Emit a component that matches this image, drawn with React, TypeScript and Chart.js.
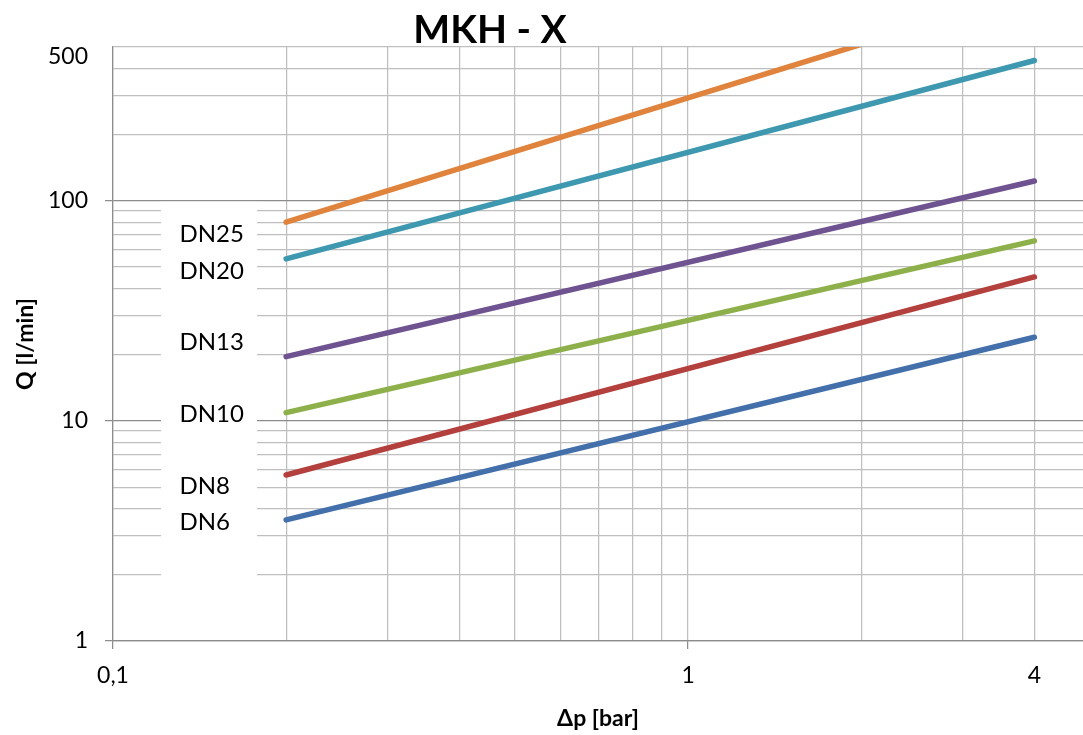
import React, { useEffect, useRef } from 'react';
import { Chart, registerables } from 'chart.js';

Chart.register(...registerables);

const chartTitle = 'MKH - X';
const xAxisTitle = 'Δp [bar]';
const yAxisTitle = 'Q [l/min]';

const seriesNames = ['DN6', 'DN8', 'DN10', 'DN13', 'DN20', 'DN25'];
const seriesColors = ['#4370AB', '#B3403C', '#8DB04B', '#6F5391', '#3D98B0', '#E0833C'];
const pressure = [0.2, 4];
const flowDN6 = [3.55, 24.0];
const flowDN8 = [5.68, 45.1];
const flowDN10 = [10.9, 65.8];
const flowDN13 = [19.6, 123];
const flowDN20 = [54.5, 434];
const flowDN25 = [80, 900];
const seriesFlows = [flowDN6, flowDN8, flowDN10, flowDN13, flowDN20, flowDN25];

const labelNames = ['DN25', 'DN20', 'DN13', 'DN10', 'DN8', 'DN6'];
const labelQ = [70.4, 48.1, 22.7, 10.76, 5.06, 3.47];
const labelDp = 0.1305;
const labelBoxDp = [0.1212, 0.178];
const labelBoxQ = [99, 1.6];

const xMin = 0.1;
const xMax = 4.86;
const yMin = 1;
const yMax = 500;
const xGridValues = [0.1, 0.2, 0.3, 0.4, 0.5, 0.6, 0.7, 0.8, 0.9, 1, 2, 3, 4];
const xMajorValues = [0.1, 1];
const xTickLabels: Record<string, string> = { '0.1': '0,1', '1': '1', '4': '4' };
const yGridValues = [1, 2, 3, 4, 5, 6, 7, 8, 9, 10, 20, 30, 40, 50, 60, 70, 80, 90, 100, 200, 300, 400, 500];
const yMajorValues = [1, 10, 100];
const yTickLabels: Record<string, string> = { '1': '1', '10': '10', '100': '100' };
const yTopLabel = '500';

const FONT = 'Lato';
const MINOR = '#BFBFBF';
const MAJOR = '#8C8C8C';

const annotations = {
  id: 'annotations',
  beforeDatasetsDraw(chart: any) {
    const { ctx } = chart;
    const x = chart.scales.x;
    const y = chart.scales.y;
    ctx.save();
    const bx0 = x.getPixelForValue(labelBoxDp[0]);
    const bx1 = x.getPixelForValue(labelBoxDp[1]);
    const by0 = y.getPixelForValue(labelBoxQ[0]);
    const by1 = y.getPixelForValue(labelBoxQ[1]);
    ctx.fillStyle = '#ffffff';
    ctx.fillRect(bx0, by0, bx1 - bx0, by1 - by0);
    ctx.fillStyle = '#000000';
    ctx.font = `24px ${FONT}`;
    ctx.textAlign = 'left';
    ctx.textBaseline = 'middle';
    labelNames.forEach((n, i) => {
      ctx.fillText(n, x.getPixelForValue(labelDp), y.getPixelForValue(labelQ[i]));
    });
    ctx.font = `23px ${FONT}`;
    ctx.textAlign = 'right';
    ctx.fillText(yTopLabel, y.right - 25, y.getPixelForValue(yMax) + 10);
    ctx.font = `bold 39px ${FONT}`;
    ctx.textAlign = 'center';
    ctx.fillText(chartTitle, 490, 30);
    ctx.restore();
  },
};

export default function App() {
  const ref = useRef<HTMLCanvasElement>(null);
  useEffect(() => {
    document.body.style.margin = '0';
    Chart.defaults.font.family = FONT;
    const datasets = seriesNames.map((name, i) => ({
      label: name,
      data: pressure.map((p, j) => ({ x: p, y: seriesFlows[i][j] })),
      borderColor: seriesColors[i],
      backgroundColor: seriesColors[i],
      borderWidth: 5.5,
      borderCapStyle: 'round' as const,
      pointRadius: 0,
      tension: 0,
      clip: 0,
    }));
    const chart = new Chart(ref.current!, {
      type: 'line',
      data: { datasets },
      plugins: [annotations],
      options: {
        animation: false,
        responsive: false,
        layout: { padding: { top: 47, left: 0, right: 0, bottom: 0 } },
        plugins: { legend: { display: false }, tooltip: { enabled: false } },
        scales: {
          x: {
            type: 'logarithmic',
            min: xMin,
            max: xMax,
            position: 'bottom',
            afterBuildTicks: (axis: any) => {
              axis.ticks = xGridValues.map((v) => ({ value: v }));
            },
            afterFit: (axis: any) => {
              axis.height = 94;
            },
            ticks: {
              autoSkip: false,
              maxRotation: 0,
              minRotation: 0,
              padding: 13,
              color: '#000',
              font: { size: 23 },
              callback: (v: any) => xTickLabels[String(v)] ?? '',
            },
            grid: {
              color: MINOR,
              lineWidth: 1.25,
              tickLength: 8,
              tickColor: (c: any) => (xMajorValues.includes(c.tick?.value) ? MAJOR : 'rgba(0,0,0,0)'),
            },
            border: { color: MAJOR, width: 1.25 },
            title: {
              display: true,
              text: xAxisTitle,
              color: '#000',
              font: { size: 23, weight: 'bold' },
              padding: { top: 0, bottom: 3 },
            },
          },
          y: {
            type: 'logarithmic',
            min: yMin,
            max: yMax,
            afterBuildTicks: (axis: any) => {
              axis.ticks = yGridValues.map((v) => ({ value: v }));
            },
            afterFit: (axis: any) => {
              axis.width = 113;
            },
            ticks: {
              autoSkip: false,
              padding: 17,
              color: '#000',
              font: { size: 23 },
              callback: (v: any) => yTickLabels[String(v)] ?? '',
            },
            grid: {
              color: (c: any) => (yMajorValues.includes(c.tick?.value) ? MAJOR : MINOR),
              lineWidth: 1.25,
              tickLength: 8,
              tickColor: (c: any) => (yMajorValues.includes(c.tick?.value) ? MAJOR : 'rgba(0,0,0,0)'),
            },
            border: { color: MAJOR, width: 1.25 },
            title: {
              display: true,
              text: yAxisTitle,
              color: '#000',
              font: { size: 23, weight: 'bold' },
              padding: { top: 12, bottom: 0 },
            },
          },
        },
      } as any,
    });
    return () => chart.destroy();
  }, []);
  return <canvas ref={ref} width={1083} height={735} style={{ display: 'block' }} />;
}
